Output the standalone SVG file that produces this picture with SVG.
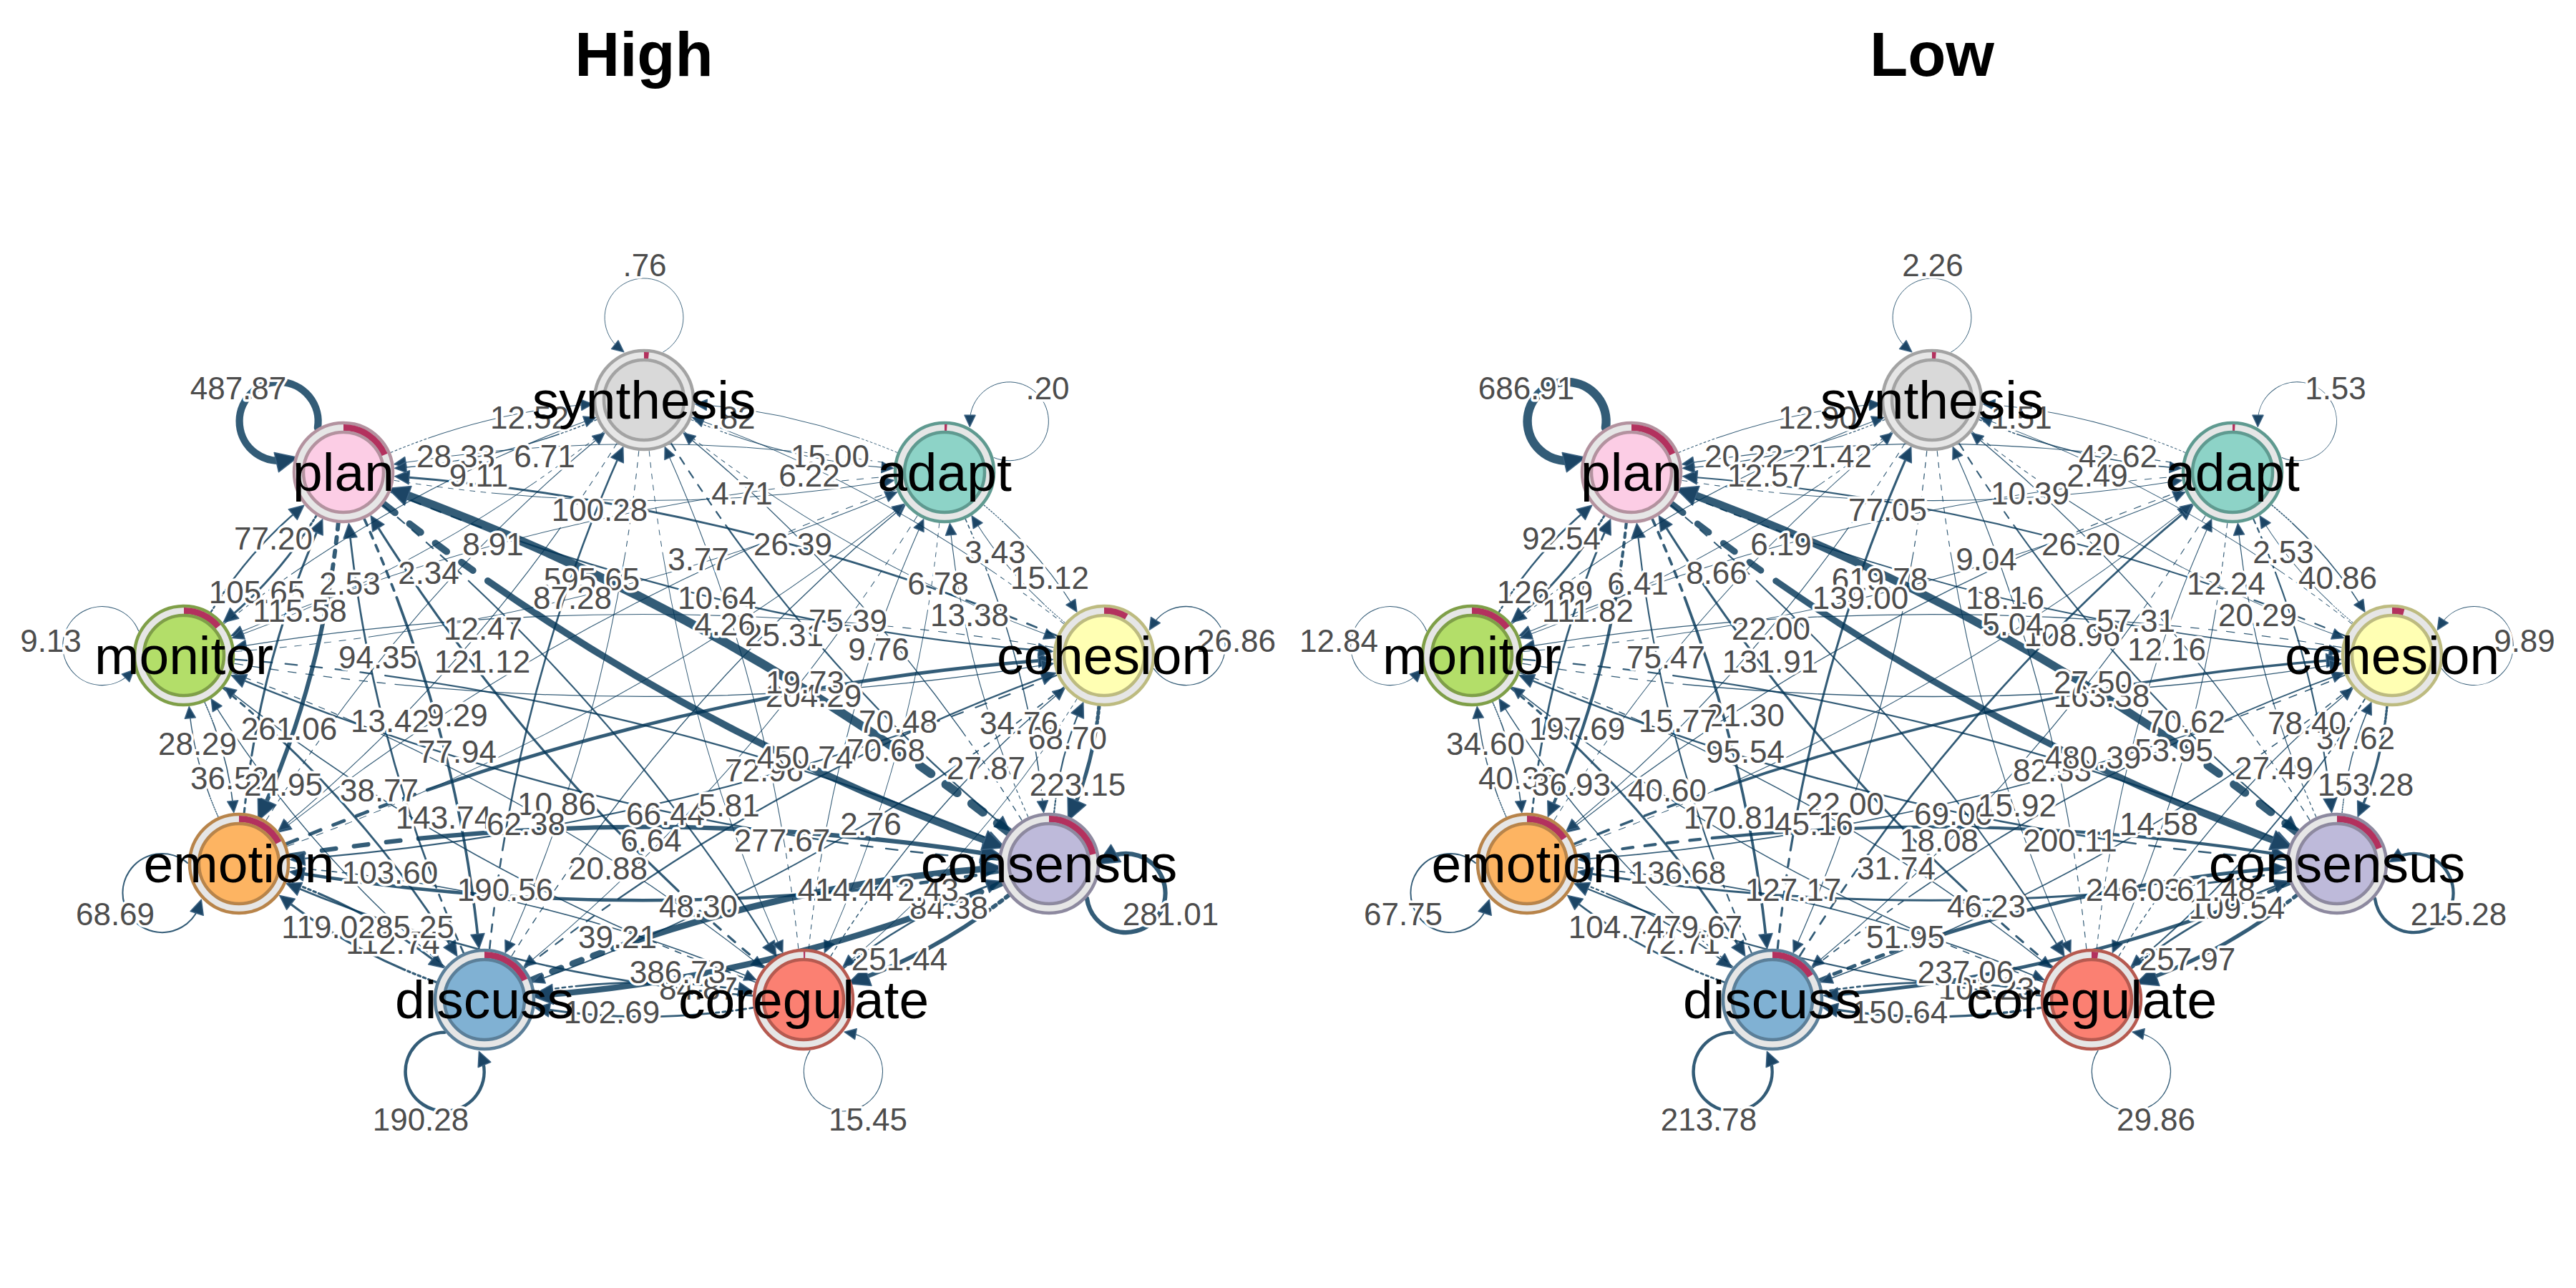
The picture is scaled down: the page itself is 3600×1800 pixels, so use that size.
<svg xmlns="http://www.w3.org/2000/svg" xmlns:xlink="http://www.w3.org/1999/xlink" width="3600" height="1800" viewBox="0 0 3600 1800">
<style>
.ed{fill:none;stroke:#003355;stroke-opacity:.8;stroke-linecap:round}
.t{stroke-dasharray:1 1.2 1 1.2 1 1.2 1 1.2 1 1.2 1 1.2 1 1.2 1 1.2 1 1.2 100 0;marker-end:url(#aS)}
.m{stroke-dasharray:1.5 1.7 1.5 1.7 1.5 1.7 1.5 1.7 1.5 1.7 1.5 1.7 100 0;marker-end:url(#aM)}
.k{stroke-dasharray:2 2.6 2 2.6 2 2.6 2 2.6 100 0;marker-end:url(#aL)}
.lt{marker-end:url(#aS)}
.lm{marker-end:url(#aM)}
.lk{marker-end:url(#aL)}
.el{font-family:"Liberation Sans",Arial,sans-serif;font-size:44px;fill:#4d4d4d;stroke:#fff;stroke-width:7px;paint-order:stroke;stroke-linejoin:round;text-anchor:middle}
.nl{font-family:"Liberation Sans",Arial,sans-serif;font-size:75px;fill:#000;text-anchor:middle}
.ti{font-family:"Liberation Sans",Arial,sans-serif;font-weight:bold;font-size:87px;fill:#000;text-anchor:middle}
.ring{fill:#e6e6e6;stroke-width:4.5}
.core{stroke-width:4.5}
.pie{fill:none;stroke:#b3315e;stroke-width:9}
.ah{fill:#1c4565;stroke:#3b6282;stroke-width:1.5;stroke-linejoin:round}
</style>
<defs>
<marker id="aS" viewBox="-20 -10 30 20" markerWidth="30" markerHeight="20" refX="0" refY="0" orient="auto" markerUnits="userSpaceOnUse"><path class="ah" d="M8 0L-8 -7.5L-8 7.5Z"/></marker>
<marker id="aM" viewBox="-16 -12 26 24" markerWidth="26" markerHeight="24" refX="0" refY="0" orient="auto" markerUnits="userSpaceOnUse"><path class="ah" d="M8 0L-12 -9.5L-12 9.5Z"/></marker>
<marker id="aL" viewBox="-20 -17 36 34" markerWidth="36" markerHeight="34" refX="0" refY="0" orient="auto" markerUnits="userSpaceOnUse"><path class="ah" d="M14 0L-16 -14L-16 14Z"/></marker>
<path id="g432p" pathLength="100" d="M71 11.4Q216 34.6 353 12.6"/>
<path id="g432m" pathLength="100" d="M71 -11.4Q216 -34.6 353 -12.6"/>
<path id="g735p" pathLength="100" d="M71 11.4Q367.8 58.8 656.5 12.6"/>
<path id="g735m" pathLength="100" d="M71 -11.4Q367.8 -58.8 656.5 -12.6"/>
<path id="g860p" pathLength="100" d="M71 11.4Q430.2 68.8 781.4 12.6"/>
<path id="g860m" pathLength="100" d="M71 -11.4Q430.2 -68.8 781.4 -12.6"/>
<path id="g867p" pathLength="100" d="M71 11.4Q433.6 69.4 788.2 12.6"/>
<path id="g867m" pathLength="100" d="M71 -11.4Q433.6 -69.4 788.2 -12.6"/>
<path id="g339m" pathLength="100" d="M71 -11.4Q169.8 -27.2 260.5 -12.6"/>
<path id="g566m" pathLength="100" d="M71 -11.4Q283 -45.3 487.1 -12.6"/>
<path id="g763m" pathLength="100" d="M71 -11.4Q381.5 -61 683.9 -12.6"/>
<path id="g978m" pathLength="100" d="M71 -11.4Q489 -78.2 899.1 -12.6"/>
<path id="g1128p" pathLength="100" d="M71 11.4Q563.8 90.2 1048.6 12.6"/>
<path id="g1093p" pathLength="100" d="M71 11.4Q546.7 87.5 1014.4 12.6"/>
<path id="g840p" pathLength="100" d="M71 11.4Q420 67.2 761 12.6"/>
<path id="g301m" pathLength="100" d="M71 -11.4Q150.5 -24.1 222 -12.6"/>
<path id="g639m" pathLength="100" d="M71 -11.4Q319.3 -51.1 559.6 -12.6"/>
<path id="g991m" pathLength="100" d="M71 -11.4Q495.3 -79.2 911.6 -12.6"/>
<path id="g1244m" pathLength="100" d="M71 -11.4Q621.8 -99.5 1164.5 -12.6"/>
<path id="g1286p" pathLength="100" d="M71 11.4Q643 102.9 1207 12.6"/>
<path id="g392m" pathLength="100" d="M71 -11.4Q196 -31.4 313.1 -12.6"/>
<path id="g812m" pathLength="100" d="M71 -11.4Q405.8 -64.9 732.6 -12.6"/>
<path id="g1132m" pathLength="100" d="M71 -11.4Q566 -90.6 1053 -12.6"/>
<path id="g446m" pathLength="100" d="M71 -11.4Q223 -35.7 367 -12.6"/>
<path id="lp" d="M26.6 -66.9A55 55 0 1 0 -34.5 -72.2"/>
</defs>
<rect width="3600" height="1800" fill="#fff"/>

<g id="panel-high">
<text class="ti" x="900" y="106">High</text>
<g id="edges-high" class="ed">
<use href="#lp" transform="translate(1320 660) rotate(51.8)" class="lt" stroke-width=".9"/>
<use href="#g339m" transform="translate(1543 916) rotate(228.94)" class="t" stroke-width="1"/>
<use href="#g566m" transform="translate(1466 1207) rotate(255.06)" class="t" stroke-width="1.15"/>
<use href="#g763m" transform="translate(1123 1397) rotate(284.96)" class="t" stroke-width="1.1"/>
<use href="#g978m" transform="translate(677 1397) rotate(311.1)" class="t" stroke-width="1.4"/>
<use href="#g1128p" transform="translate(334 1207) rotate(330.98)" class="t" stroke-width="1"/>
<use href="#g1093p" transform="translate(257 916) rotate(346.46)" class="t" stroke-width="1"/>
<use href="#g840p" transform="translate(480 660)" class="t" stroke-width="1"/>
<use href="#g432p" transform="translate(900 559) rotate(13.52)" class="t" stroke-width="1.2"/>
<use href="#g339m" transform="translate(1320 660) rotate(48.94)" class="t" stroke-width="1.2"/>
<use href="#lp" transform="translate(1543 916) rotate(83.3)" class="lt" stroke-width="1.4"/>
<use href="#g301m" transform="translate(1466 1207) rotate(284.82)" class="m" stroke-width="2.2"/>
<use href="#g639m" transform="translate(1123 1397) rotate(311.13)" class="t" stroke-width="1.45"/>
<use href="#g991m" transform="translate(677 1397) rotate(330.95)" class="m" stroke-width="2.25"/>
<use href="#g1244m" transform="translate(334 1207) rotate(346.47)" class="m" stroke-width="4.85"/>
<use href="#g1286p" transform="translate(257 916)" class="t" stroke-width="1.3"/>
<use href="#g1093p" transform="translate(480 660) rotate(13.54)" class="m" stroke-width="2.35"/>
<use href="#g735p" transform="translate(900 559) rotate(29.04)" class="t" stroke-width="1"/>
<use href="#g566m" transform="translate(1320 660) rotate(75.06)" class="t" stroke-width="1.6"/>
<use href="#g301m" transform="translate(1543 916) rotate(104.82)" class="k" stroke-width="5.2"/>
<use href="#lp" transform="translate(1466 1207) rotate(110.9)" class="lk" stroke-width="6.3"/>
<use href="#g392m" transform="translate(1123 1397) rotate(331.02)" class="m" stroke-width="2.5"/>
<use href="#g812m" transform="translate(677 1397) rotate(346.46)" class="k" stroke-width="8.9"/>
<use href="#g1132m" transform="translate(334 1207)" class="k" stroke-width="6.3"/>
<use href="#g1244m" transform="translate(257 916) rotate(13.53)" class="m" stroke-width="2.3"/>
<use href="#g1128p" transform="translate(480 660) rotate(29.02)" class="k" stroke-width="9.6"/>
<use href="#g860p" transform="translate(900 559) rotate(48.86)" class="m" stroke-width="2.25"/>
<use href="#g763m" transform="translate(1320 660) rotate(104.96)" class="t" stroke-width=".95"/>
<use href="#g639m" transform="translate(1543 916) rotate(131.13)" class="t" stroke-width=".95"/>
<use href="#g392m" transform="translate(1466 1207) rotate(151.02)" class="k" stroke-width="5.75"/>
<use href="#lp" transform="translate(1123 1397) rotate(151.2)" class="lt" stroke-width="1.2"/>
<use href="#g446m" transform="translate(677 1397)" class="m" stroke-width="2.55"/>
<use href="#g812m" transform="translate(334 1207) rotate(13.54)" class="t" stroke-width="1.65"/>
<use href="#g991m" transform="translate(257 916) rotate(29.05)" class="t" stroke-width="1.3"/>
<use href="#g978m" transform="translate(480 660) rotate(48.9)" class="m" stroke-width="2.2"/>
<use href="#g867p" transform="translate(900 559) rotate(75.1)" class="t" stroke-width="1"/>
<use href="#g978m" transform="translate(1320 660) rotate(131.1)" class="t" stroke-width="1"/>
<use href="#g991m" transform="translate(1543 916) rotate(150.95)" class="t" stroke-width="1.85"/>
<use href="#g812m" transform="translate(1466 1207) rotate(166.46)" class="k" stroke-width="8.4"/>
<use href="#g446m" transform="translate(1123 1397) rotate(180)" class="m" stroke-width="2.9"/>
<use href="#lp" transform="translate(677 1397) rotate(-151.2)" class="lm" stroke-width="4.6"/>
<use href="#g392m" transform="translate(334 1207) rotate(28.98)" class="m" stroke-width="3.1"/>
<use href="#g639m" transform="translate(257 916) rotate(48.87)" class="m" stroke-width="2.9"/>
<use href="#g763m" transform="translate(480 660) rotate(75.04)" class="m" stroke-width="3.7"/>
<use href="#g867m" transform="translate(900 559) rotate(104.9)" class="t" stroke-width="1.1"/>
<use href="#g1128p" transform="translate(1320 660) rotate(150.98)" class="t" stroke-width="1.1"/>
<use href="#g1244m" transform="translate(1543 916) rotate(166.47)" class="m" stroke-width="2.1"/>
<use href="#g1132m" transform="translate(1466 1207) rotate(180)" class="m" stroke-width="4.6"/>
<use href="#g812m" transform="translate(1123 1397) rotate(193.54)" class="m" stroke-width="2.55"/>
<use href="#g392m" transform="translate(677 1397) rotate(208.98)" class="m" stroke-width="3.2"/>
<use href="#lp" transform="translate(334 1207) rotate(-110.9)" class="lm" stroke-width="2.2"/>
<use href="#g301m" transform="translate(257 916) rotate(75.18)" class="t" stroke-width="1.6"/>
<use href="#g566m" transform="translate(480 660) rotate(104.94)" class="k" stroke-width="5.9"/>
<use href="#g860m" transform="translate(900 559) rotate(131.14)" class="t" stroke-width="1.15"/>
<use href="#g1093p" transform="translate(1320 660) rotate(166.46)" class="t" stroke-width=".95"/>
<use href="#g1286p" transform="translate(1543 916) rotate(180)" class="t" stroke-width="1.15"/>
<use href="#g1244m" transform="translate(1466 1207) rotate(193.53)" class="m" stroke-width="2.4"/>
<use href="#g991m" transform="translate(1123 1397) rotate(209.05)" class="t" stroke-width="1.65"/>
<use href="#g639m" transform="translate(677 1397) rotate(228.87)" class="t" stroke-width="1.4"/>
<use href="#g301m" transform="translate(334 1207) rotate(255.18)" class="t" stroke-width="1.45"/>
<use href="#lp" transform="translate(257 916) rotate(-83.3)" class="lt" stroke-width="1.1"/>
<use href="#g339m" transform="translate(480 660) rotate(131.06)" class="m" stroke-width="2.95"/>
<use href="#g735m" transform="translate(900 559) rotate(150.96)" class="t" stroke-width=".95"/>
<use href="#g840p" transform="translate(1320 660) rotate(180)" class="t" stroke-width="1"/>
<use href="#g1093p" transform="translate(1543 916) rotate(193.54)" class="m" stroke-width="2.85"/>
<use href="#g1128p" transform="translate(1466 1207) rotate(209.02)" class="k" stroke-width="12.4"/>
<use href="#g978m" transform="translate(1123 1397) rotate(228.9)" class="m" stroke-width="3.2"/>
<use href="#g763m" transform="translate(677 1397) rotate(255.04)" class="m" stroke-width="2.7"/>
<use href="#g566m" transform="translate(334 1207) rotate(284.94)" class="m" stroke-width="3.1"/>
<use href="#g339m" transform="translate(257 916) rotate(311.06)" class="m" stroke-width="2.4"/>
<use href="#lp" transform="translate(480 660) rotate(-51.8)" class="lk" stroke-width="10.3"/>
<use href="#g432m" transform="translate(900 559) rotate(166.48)" class="t" stroke-width="1.45"/>
<use href="#g432p" transform="translate(1320 660) rotate(193.52)" class="t" stroke-width=".9"/>
<use href="#g735p" transform="translate(1543 916) rotate(209.04)" class="t" stroke-width="1"/>
<use href="#g860p" transform="translate(1466 1207) rotate(228.86)" class="t" stroke-width="1.4"/>
<use href="#g867p" transform="translate(1123 1397) rotate(255.1)" class="t" stroke-width="1.1"/>
<use href="#g867m" transform="translate(677 1397) rotate(284.9)" class="m" stroke-width="2.6"/>
<use href="#g860m" transform="translate(334 1207) rotate(311.14)" class="t" stroke-width="1.1"/>
<use href="#g735m" transform="translate(257 916) rotate(330.96)" class="t" stroke-width="1.1"/>
<use href="#g432m" transform="translate(480 660) rotate(346.48)" class="t" stroke-width="1.15"/>
<use href="#lp" transform="translate(900 559)" class="lt" stroke-width=".9"/>
</g>
<g id="edge-labels-high" class="el">
<text x="1464" y="558">.20</text>
<text x="1391" y="787">3.43</text>
<text x="1355" y="875">13.38</text>
<text x="1228" y="923">9.76</text>
<text x="1096" y="903">25.31</text>
<text x="1013" y="888">4.26</text>
<text x="976" y="797">3.77</text>
<text x="1037" y="705">4.71</text>
<text x="1160" y="653">15.00</text>
<text x="1467" y="823">15.12</text>
<text x="1728" y="911">26.86</text>
<text x="1492" y="1047">68.70</text>
<text x="1378" y="1089">27.87</text>
<text x="1238" y="1064">70.68</text>
<text x="1137" y="988">204.29</text>
<text x="1125" y="969">19.73</text>
<text x="1185" y="883">75.39</text>
<text x="1311" y="831">6.78</text>
<text x="1424" y="1026">34.76</text>
<text x="1506" y="1112">223.15</text>
<text x="1636" y="1293">281.01</text>
<text x="1326" y="1284">84.38</text>
<text x="1182" y="1259">414.44</text>
<text x="1093" y="1190">277.67</text>
<text x="1068" y="1092">72.96</text>
<text x="1125" y="1074">450.74</text>
<text x="1255" y="1024">70.48</text>
<text x="1217" y="1167">2.76</text>
<text x="1297" y="1259">2.43</text>
<text x="1257" y="1356">251.44</text>
<text x="1213" y="1580">15.45</text>
<text x="976" y="1397">84.87</text>
<text x="863" y="1325">39.21</text>
<text x="850" y="1229">20.88</text>
<text x="930" y="1153">66.44</text>
<text x="1019" y="1141">5.81</text>
<text x="910" y="1190">6.64</text>
<text x="976" y="1282">48.30</text>
<text x="947" y="1374">386.73</text>
<text x="855" y="1430">102.69</text>
<text x="588" y="1580">190.28</text>
<text x="549" y="1333">112.74</text>
<text x="545" y="1235">103.60</text>
<text x="620" y="1158">143.74</text>
<text x="778" y="1139">10.86</text>
<text x="639" y="1015">9.29</text>
<text x="735" y="1167">62.38</text>
<text x="706" y="1259">190.56</text>
<text x="580" y="1311">85.25</text>
<text x="459" y="1311">119.02</text>
<text x="161" y="1293">68.69</text>
<text x="321" y="1103">36.52</text>
<text x="404" y="1034">261.06</text>
<text x="545" y="1023">13.42</text>
<text x="599" y="816">2.34</text>
<text x="675" y="894">12.47</text>
<text x="639" y="1066">77.94</text>
<text x="530" y="1120">38.77</text>
<text x="396" y="1112">24.95</text>
<text x="276" y="1055">28.29</text>
<text x="71" y="911">9.13</text>
<text x="359" y="843">105.65</text>
<text x="489" y="831">2.53</text>
<text x="761" y="653">6.71</text>
<text x="838" y="728">100.28</text>
<text x="827" y="825">595.65</text>
<text x="674" y="940">121.12</text>
<text x="528" y="934">94.35</text>
<text x="419" y="869">115.58</text>
<text x="382" y="768">77.20</text>
<text x="333" y="558">487.87</text>
<text x="637" y="653">28.33</text>
<text x="1025" y="599">.82</text>
<text x="1131" y="680">6.22</text>
<text x="1108" y="776">26.39</text>
<text x="1002" y="851">10.64</text>
<text x="800" y="851">87.28</text>
<text x="689" y="776">8.91</text>
<text x="669" y="680">9.11</text>
<text x="740" y="599">12.52</text>
<text x="901" y="386">.76</text>
</g>
<g id="h-synthesis" transform="translate(900 559)"><circle class="ring" r="69" stroke="#a3a3a3"/><path class="pie" d="M0 -62.5A62.5 62.5 0 0 1 6.5 -62.2"/><circle class="core" r="56" fill="#d9d9d9" stroke="#a3a3a3"/><text class="nl" y="26">synthesis</text></g>
<g id="h-adapt" transform="translate(1320 660)"><circle class="ring" r="69" stroke="#5f9a90"/><path class="pie" d="M0 -62.5A62.5 62.5 0 0 1 3.3 -62.4"/><circle class="core" r="56" fill="#8dd3c7" stroke="#5f9a90"/><text class="nl" y="26">adapt</text></g>
<g id="h-cohesion" transform="translate(1543 916)"><circle class="ring" r="69" stroke="#bdbb80"/><path class="pie" d="M0 -62.5A62.5 62.5 0 0 1 31.3 -54.1"/><circle class="core" r="56" fill="#ffffb3" stroke="#bdbb80"/><text class="nl" y="26">cohesion</text></g>
<g id="h-consensus" transform="translate(1466 1207)"><circle class="ring" r="69" stroke="#8d899f"/><path class="pie" d="M0 -62.5A62.5 62.5 0 0 1 61.1 -13"/><circle class="core" r="56" fill="#bebada" stroke="#8d899f"/><text class="nl" y="26">consensus</text></g>
<g id="h-coregulate" transform="translate(1123 1397)"><circle class="ring" r="69" stroke="#b65a50"/><path class="pie" d="M0 -62.5A62.5 62.5 0 0 1 2.2 -62.5"/><circle class="core" r="56" fill="#fb8072" stroke="#b65a50"/><text class="nl" y="26">coregulate</text></g>
<g id="h-discuss" transform="translate(677 1397)"><circle class="ring" r="69" stroke="#5b7f99"/><path class="pie" d="M0 -62.5A62.5 62.5 0 0 1 56.2 -27.4"/><circle class="core" r="56" fill="#80b1d3" stroke="#5b7f99"/><text class="nl" y="26">discuss</text></g>
<g id="h-emotion" transform="translate(334 1207)"><circle class="ring" r="69" stroke="#b8844a"/><path class="pie" d="M0 -62.5A62.5 62.5 0 0 1 55.2 -29.3"/><circle class="core" r="56" fill="#fdb462" stroke="#b8844a"/><text class="nl" y="26">emotion</text></g>
<g id="h-monitor" transform="translate(257 916)"><circle class="ring" r="69" stroke="#7f9f48"/><path class="pie" d="M0 -62.5A62.5 62.5 0 0 1 47.9 -40.2"/><circle class="core" r="56" fill="#b3de69" stroke="#7f9f48"/><text class="nl" y="26">monitor</text></g>
<g id="h-plan" transform="translate(480 660)"><circle class="ring" r="69" stroke="#b3929f"/><path class="pie" d="M0 -62.5A62.5 62.5 0 0 1 57.5 -24.4"/><circle class="core" r="56" fill="#fccde5" stroke="#b3929f"/><text class="nl" y="26">plan</text></g>
</g>

<g id="panel-low" transform="translate(1800 0)">
<text class="ti" x="900" y="106">Low</text>
<g id="edges-low" class="ed">
<use href="#lp" transform="translate(1320 660) rotate(51.8)" class="lt" stroke-width=".95"/>
<use href="#g339m" transform="translate(1543 916) rotate(228.94)" class="t" stroke-width=".95"/>
<use href="#g566m" transform="translate(1466 1207) rotate(255.06)" class="t" stroke-width="1.25"/>
<use href="#g763m" transform="translate(1123 1397) rotate(284.96)" class="t" stroke-width="1.1"/>
<use href="#g978m" transform="translate(677 1397) rotate(311.1)" class="m" stroke-width="2.75"/>
<use href="#g1128p" transform="translate(334 1207) rotate(330.98)" class="t" stroke-width="1"/>
<use href="#g1093p" transform="translate(257 916) rotate(346.46)" class="t" stroke-width="1.05"/>
<use href="#g840p" transform="translate(480 660)" class="t" stroke-width="1.05"/>
<use href="#g432p" transform="translate(900 559) rotate(13.52)" class="t" stroke-width="1.6"/>
<use href="#g339m" transform="translate(1320 660) rotate(48.94)" class="t" stroke-width="1.6"/>
<use href="#lp" transform="translate(1543 916) rotate(83.3)" class="lt" stroke-width="1.05"/>
<use href="#g301m" transform="translate(1466 1207) rotate(284.82)" class="t" stroke-width="1.5"/>
<use href="#g639m" transform="translate(1123 1397) rotate(311.13)" class="t" stroke-width="1.35"/>
<use href="#g991m" transform="translate(677 1397) rotate(330.95)" class="t" stroke-width="1.8"/>
<use href="#g1244m" transform="translate(334 1207) rotate(346.47)" class="m" stroke-width="3.6"/>
<use href="#g1286p" transform="translate(257 916)" class="t" stroke-width="1.35"/>
<use href="#g1093p" transform="translate(480 660) rotate(13.54)" class="t" stroke-width="1.85"/>
<use href="#g735p" transform="translate(900 559) rotate(29.04)" class="t" stroke-width="1.1"/>
<use href="#g566m" transform="translate(1320 660) rotate(75.06)" class="m" stroke-width="2.2"/>
<use href="#g301m" transform="translate(1543 916) rotate(104.82)" class="m" stroke-width="3.45"/>
<use href="#lp" transform="translate(1466 1207) rotate(110.9)" class="lm" stroke-width="4.5"/>
<use href="#g392m" transform="translate(1123 1397) rotate(331.02)" class="m" stroke-width="2.75"/>
<use href="#g812m" transform="translate(677 1397) rotate(346.46)" class="m" stroke-width="5"/>
<use href="#g1132m" transform="translate(334 1207)" class="m" stroke-width="4.25"/>
<use href="#g1244m" transform="translate(257 916) rotate(13.53)" class="m" stroke-width="2.3"/>
<use href="#g1128p" transform="translate(480 660) rotate(29.02)" class="k" stroke-width="8.95"/>
<use href="#g860p" transform="translate(900 559) rotate(48.86)" class="m" stroke-width="2.1"/>
<use href="#g763m" transform="translate(1320 660) rotate(104.96)" class="t" stroke-width="1.15"/>
<use href="#g639m" transform="translate(1543 916) rotate(131.13)" class="t" stroke-width="1.95"/>
<use href="#g392m" transform="translate(1466 1207) rotate(151.02)" class="k" stroke-width="5.2"/>
<use href="#lp" transform="translate(1123 1397) rotate(151.2)" class="lt" stroke-width="1.4"/>
<use href="#g446m" transform="translate(677 1397)" class="m" stroke-width="2.65"/>
<use href="#g812m" transform="translate(334 1207) rotate(13.54)" class="t" stroke-width="1.8"/>
<use href="#g991m" transform="translate(257 916) rotate(29.05)" class="t" stroke-width="1.45"/>
<use href="#g978m" transform="translate(480 660) rotate(48.9)" class="m" stroke-width="2.05"/>
<use href="#g867p" transform="translate(900 559) rotate(75.1)" class="t" stroke-width="1.15"/>
<use href="#g978m" transform="translate(1320 660) rotate(131.1)" class="t" stroke-width="1.2"/>
<use href="#g991m" transform="translate(1543 916) rotate(150.95)" class="t" stroke-width="1.65"/>
<use href="#g812m" transform="translate(1466 1207) rotate(166.46)" class="m" stroke-width="4.85"/>
<use href="#g446m" transform="translate(1123 1397) rotate(180)" class="m" stroke-width="3.4"/>
<use href="#lp" transform="translate(677 1397) rotate(-151.2)" class="lm" stroke-width="4.5"/>
<use href="#g392m" transform="translate(334 1207) rotate(28.98)" class="m" stroke-width="2.1"/>
<use href="#g639m" transform="translate(257 916) rotate(48.87)" class="m" stroke-width="3.2"/>
<use href="#g763m" transform="translate(480 660) rotate(75.04)" class="m" stroke-width="3.75"/>
<use href="#g867m" transform="translate(900 559) rotate(104.9)" class="t" stroke-width="1.25"/>
<use href="#g1128p" transform="translate(1320 660) rotate(150.98)" class="t" stroke-width="1.25"/>
<use href="#g1244m" transform="translate(1543 916) rotate(166.47)" class="t" stroke-width="1.65"/>
<use href="#g1132m" transform="translate(1466 1207) rotate(180)" class="m" stroke-width="3"/>
<use href="#g812m" transform="translate(1123 1397) rotate(193.54)" class="m" stroke-width="2.25"/>
<use href="#g392m" transform="translate(677 1397) rotate(208.98)" class="m" stroke-width="2.65"/>
<use href="#lp" transform="translate(334 1207) rotate(-110.9)" class="lm" stroke-width="2.05"/>
<use href="#g301m" transform="translate(257 916) rotate(75.18)" class="t" stroke-width="1.6"/>
<use href="#g566m" transform="translate(480 660) rotate(104.94)" class="m" stroke-width="4.2"/>
<use href="#g860m" transform="translate(900 559) rotate(131.14)" class="t" stroke-width="1.15"/>
<use href="#g1093p" transform="translate(1320 660) rotate(166.46)" class="t" stroke-width="1.05"/>
<use href="#g1286p" transform="translate(1543 916) rotate(180)" class="t" stroke-width="1.25"/>
<use href="#g1244m" transform="translate(1466 1207) rotate(193.53)" class="m" stroke-width="2.5"/>
<use href="#g991m" transform="translate(1123 1397) rotate(209.05)" class="t" stroke-width="1.6"/>
<use href="#g639m" transform="translate(677 1397) rotate(228.87)" class="t" stroke-width="1.5"/>
<use href="#g301m" transform="translate(334 1207) rotate(255.18)" class="t" stroke-width="1.5"/>
<use href="#lp" transform="translate(257 916) rotate(-83.3)" class="lt" stroke-width="1.1"/>
<use href="#g339m" transform="translate(480 660) rotate(131.06)" class="m" stroke-width="3"/>
<use href="#g735m" transform="translate(900 559) rotate(150.96)" class="t" stroke-width="1"/>
<use href="#g840p" transform="translate(1320 660) rotate(180)" class="t" stroke-width="1.25"/>
<use href="#g1093p" transform="translate(1543 916) rotate(193.54)" class="m" stroke-width="2.2"/>
<use href="#g1128p" transform="translate(1466 1207) rotate(209.02)" class="k" stroke-width="11.3"/>
<use href="#g978m" transform="translate(1123 1397) rotate(228.9)" class="m" stroke-width="3.1"/>
<use href="#g763m" transform="translate(677 1397) rotate(255.04)" class="m" stroke-width="2.15"/>
<use href="#g566m" transform="translate(334 1207) rotate(284.94)" class="m" stroke-width="2.8"/>
<use href="#g339m" transform="translate(257 916) rotate(311.06)" class="m" stroke-width="2.45"/>
<use href="#lp" transform="translate(480 660) rotate(-51.8)" class="lk" stroke-width="12.4"/>
<use href="#g432m" transform="translate(900 559) rotate(166.48)" class="t" stroke-width="1.25"/>
<use href="#g432p" transform="translate(1320 660) rotate(193.52)" class="t" stroke-width=".95"/>
<use href="#g735p" transform="translate(1543 916) rotate(209.04)" class="t" stroke-width=".95"/>
<use href="#g860p" transform="translate(1466 1207) rotate(228.86)" class="t" stroke-width="1.35"/>
<use href="#g867p" transform="translate(1123 1397) rotate(255.1)" class="t" stroke-width="1.2"/>
<use href="#g867m" transform="translate(677 1397) rotate(284.9)" class="m" stroke-width="3.2"/>
<use href="#g860m" transform="translate(334 1207) rotate(311.14)" class="t" stroke-width="1"/>
<use href="#g735m" transform="translate(257 916) rotate(330.96)" class="t" stroke-width="1.1"/>
<use href="#g432m" transform="translate(480 660) rotate(346.48)" class="t" stroke-width="1.1"/>
<use href="#lp" transform="translate(900 559)" class="lt" stroke-width=".95"/>
</g>
<g id="edge-labels-low" class="el">
<text x="1464" y="558">1.53</text>
<text x="1391" y="787">2.53</text>
<text x="1355" y="875">20.29</text>
<text x="1228" y="923">12.16</text>
<text x="1096" y="903">108.96</text>
<text x="1013" y="888">5.04</text>
<text x="976" y="797">9.04</text>
<text x="1037" y="705">10.39</text>
<text x="1160" y="653">42.62</text>
<text x="1467" y="823">40.86</text>
<text x="1728" y="911">9.89</text>
<text x="1492" y="1047">37.62</text>
<text x="1378" y="1089">27.49</text>
<text x="1238" y="1064">53.95</text>
<text x="1137" y="988">163.38</text>
<text x="1125" y="969">27.50</text>
<text x="1185" y="883">57.31</text>
<text x="1311" y="831">12.24</text>
<text x="1424" y="1026">78.40</text>
<text x="1506" y="1112">153.28</text>
<text x="1636" y="1293">215.28</text>
<text x="1326" y="1284">109.54</text>
<text x="1182" y="1259">246.03</text>
<text x="1093" y="1190">200.11</text>
<text x="1068" y="1092">82.33</text>
<text x="1125" y="1074">480.39</text>
<text x="1255" y="1024">70.62</text>
<text x="1217" y="1167">14.58</text>
<text x="1297" y="1259">61.48</text>
<text x="1257" y="1356">257.97</text>
<text x="1213" y="1580">29.86</text>
<text x="976" y="1397">103.23</text>
<text x="863" y="1325">51.95</text>
<text x="850" y="1229">31.74</text>
<text x="930" y="1153">69.00</text>
<text x="1019" y="1141">15.92</text>
<text x="910" y="1190">18.08</text>
<text x="976" y="1282">46.23</text>
<text x="947" y="1374">237.06</text>
<text x="855" y="1430">150.64</text>
<text x="588" y="1580">213.78</text>
<text x="549" y="1333">72.71</text>
<text x="545" y="1235">136.68</text>
<text x="620" y="1158">170.81</text>
<text x="778" y="1139">22.00</text>
<text x="639" y="1015">21.30</text>
<text x="735" y="1167">45.16</text>
<text x="706" y="1259">127.17</text>
<text x="580" y="1311">79.67</text>
<text x="459" y="1311">104.74</text>
<text x="161" y="1293">67.75</text>
<text x="321" y="1103">40.36</text>
<text x="404" y="1034">197.69</text>
<text x="545" y="1023">15.77</text>
<text x="599" y="816">8.66</text>
<text x="675" y="894">22.00</text>
<text x="639" y="1066">95.54</text>
<text x="530" y="1120">40.60</text>
<text x="396" y="1112">36.93</text>
<text x="276" y="1055">34.60</text>
<text x="71" y="911">12.84</text>
<text x="359" y="843">126.89</text>
<text x="489" y="831">6.41</text>
<text x="761" y="653">21.42</text>
<text x="838" y="728">77.05</text>
<text x="827" y="825">619.78</text>
<text x="674" y="940">131.91</text>
<text x="528" y="934">75.47</text>
<text x="419" y="869">111.82</text>
<text x="382" y="768">92.54</text>
<text x="333" y="558">686.91</text>
<text x="637" y="653">20.22</text>
<text x="1025" y="599">1.51</text>
<text x="1131" y="680">2.49</text>
<text x="1108" y="776">26.20</text>
<text x="1002" y="851">18.16</text>
<text x="800" y="851">139.00</text>
<text x="689" y="776">6.19</text>
<text x="669" y="680">12.57</text>
<text x="740" y="599">12.90</text>
<text x="901" y="386">2.26</text>
</g>
<g id="l-synthesis" transform="translate(900 559)"><circle class="ring" r="69" stroke="#a3a3a3"/><path class="pie" d="M0 -62.5A62.5 62.5 0 0 1 5.4 -62.3"/><circle class="core" r="56" fill="#d9d9d9" stroke="#a3a3a3"/><text class="nl" y="26">synthesis</text></g>
<g id="l-adapt" transform="translate(1320 660)"><circle class="ring" r="69" stroke="#5f9a90"/><path class="pie" d="M0 -62.5A62.5 62.5 0 0 1 3.3 -62.4"/><circle class="core" r="56" fill="#8dd3c7" stroke="#5f9a90"/><text class="nl" y="26">adapt</text></g>
<g id="l-cohesion" transform="translate(1543 916)"><circle class="ring" r="69" stroke="#bdbb80"/><path class="pie" d="M0 -62.5A62.5 62.5 0 0 1 16.2 -60.4"/><circle class="core" r="56" fill="#ffffb3" stroke="#bdbb80"/><text class="nl" y="26">cohesion</text></g>
<g id="l-consensus" transform="translate(1466 1207)"><circle class="ring" r="69" stroke="#8d899f"/><path class="pie" d="M0 -62.5A62.5 62.5 0 0 1 58.7 -21.4"/><circle class="core" r="56" fill="#bebada" stroke="#8d899f"/><text class="nl" y="26">consensus</text></g>
<g id="l-coregulate" transform="translate(1123 1397)"><circle class="ring" r="69" stroke="#b65a50"/><path class="pie" d="M0 -62.5A62.5 62.5 0 0 1 8.7 -61.9"/><circle class="core" r="56" fill="#fb8072" stroke="#b65a50"/><text class="nl" y="26">coregulate</text></g>
<g id="l-discuss" transform="translate(677 1397)"><circle class="ring" r="69" stroke="#5b7f99"/><path class="pie" d="M0 -62.5A62.5 62.5 0 0 1 53 -33.1"/><circle class="core" r="56" fill="#80b1d3" stroke="#5b7f99"/><text class="nl" y="26">discuss</text></g>
<g id="l-emotion" transform="translate(334 1207)"><circle class="ring" r="69" stroke="#b8844a"/><path class="pie" d="M0 -62.5A62.5 62.5 0 0 1 51.8 -35"/><circle class="core" r="56" fill="#fdb462" stroke="#b8844a"/><text class="nl" y="26">emotion</text></g>
<g id="l-monitor" transform="translate(257 916)"><circle class="ring" r="69" stroke="#7f9f48"/><path class="pie" d="M0 -62.5A62.5 62.5 0 0 1 49.3 -38.5"/><circle class="core" r="56" fill="#b3de69" stroke="#7f9f48"/><text class="nl" y="26">monitor</text></g>
<g id="l-plan" transform="translate(480 660)"><circle class="ring" r="69" stroke="#b3929f"/><path class="pie" d="M0 -62.5A62.5 62.5 0 0 1 57.1 -25.4"/><circle class="core" r="56" fill="#fccde5" stroke="#b3929f"/><text class="nl" y="26">plan</text></g>
</g>
</svg>
